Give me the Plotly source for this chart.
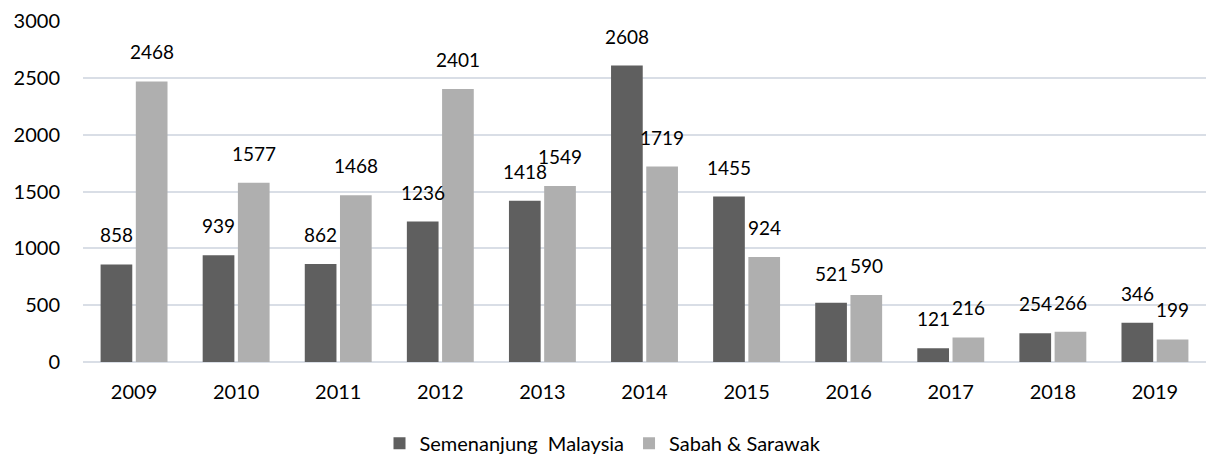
import plotly.graph_objects as go

years = ["2009", "2010", "2011", "2012", "2013", "2014", "2015", "2016", "2017", "2018", "2019"]
semenanjung = [858, 939, 862, 1236, 1418, 2608, 1455, 521, 121, 254, 346]
sabah_sarawak = [2468, 1577, 1468, 2401, 1549, 1719, 924, 590, 216, 266, 199]
series_names = ["Semenanjung  Malaysia", "Sabah & Sarawak"]
y_ticks = [0, 500, 1000, 1500, 2000, 2500, 3000]

DARK = "#5f5f5f"
LIGHT = "#afafaf"
FONT = "Lato"
FS = 20
LABEL_FS = 19

fig = go.Figure()
fig.add_trace(go.Bar(x=years, y=semenanjung, name=series_names[0], marker=dict(color=DARK, line=dict(width=0))))
fig.add_trace(go.Bar(x=years, y=sabah_sarawak, name=series_names[1], marker=dict(color=LIGHT, line=dict(width=0))))

annotations = []
for vals, shift in ((semenanjung, -17.6), (sabah_sarawak, 17.6)):
    for i, v in enumerate(vals):
        annotations.append(dict(x=i, y=v, xref="x", yref="y", text=str(v), showarrow=False,
                                xshift=shift, yshift=16, yanchor="bottom", xanchor="center",
                                font=dict(family=FONT, size=LABEL_FS, color="#000000")))

fig.update_layout(
    width=1206, height=456,
    margin=dict(l=83, r=0, t=21, b=94),
    paper_bgcolor="white", plot_bgcolor="white",
    barmode="group", bargap=0.31, bargroupgap=0.1,
    font=dict(family=FONT, size=FS, color="#000000"),
    annotations=annotations,
    showlegend=True,
    legend=dict(orientation="h", xref="container", yref="container", x=0.5, y=0.028,
                xanchor="center", yanchor="middle", font=dict(family=FONT, size=FS, color="#000000"),
                itemsizing="constant", traceorder="normal", itemwidth=30),
    xaxis=dict(type="category", range=[-0.5, len(years) - 0.5], autorange=False, showgrid=False,
               showline=False, ticks="", tickfont=dict(size=FS), ticklabelstandoff=16),
    yaxis=dict(range=[0, 3000], autorange=False, tickvals=y_ticks, showgrid=True, gridcolor="#d9dee6",
               gridwidth=1.5, zeroline=True, zerolinecolor="#d9dee6", zerolinewidth=1.5, showline=False,
               ticks="", tickfont=dict(size=FS), ticklabelstandoff=22),
)

fig.write_html("out.html", config={"displayModeBar": False},
               post_script="document.body.style.margin='0';")
